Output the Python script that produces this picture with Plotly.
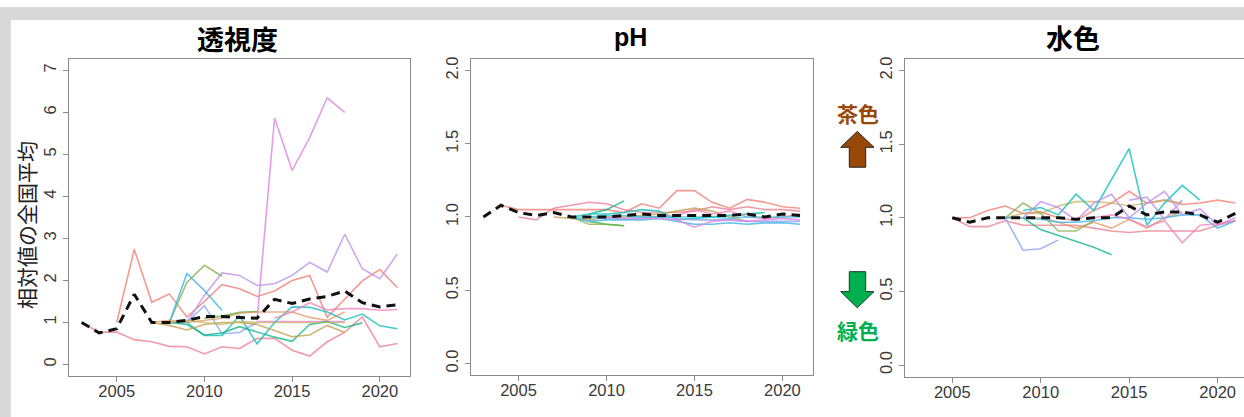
import plotly.graph_objects as go

W, H = 1244, 417
N = None
YEARS = list(range(2003, 2022))

# ---------------- 透視度 (transparency) ----------------
t_mean = [1.0, 0.75, 0.85, 1.67, 1.0, 1.0, 1.05, 1.14, 1.14, 1.12, 1.1, 1.55, 1.45, 1.56, 1.62, 1.75, 1.47, 1.37, 1.42]
t_red = [N, N, 1.0, 2.74, 1.48, 1.68, 1.13, 1.5, 1.9, 1.8, 1.62, 1.75, 2.0, 2.12, 1.12, 1.56, 1.99, 2.26, 1.83]
t_pinkred = [1.0, 0.77, 0.77, 0.59, 0.54, 0.43, 0.42, 0.25, 0.42, 0.38, 0.62, 0.62, 0.34, 0.2, 0.54, 0.77, 1.13, 0.42, 0.5]
t_orchid = [N, N, N, N, N, N, N, N, N, N, 1.05, 5.87, 4.62, 5.4, 6.35, 6.0, N, N, N]
t_pinkflat = [N, N, N, N, N, N, N, N, N, N, 1.02, 1.02, 1.02, 1.02, 1.02, 1.02, N, N, N]
t_lavender = [N, N, N, N, N, N, 1.0, 1.65, 2.18, 2.12, 1.88, 1.92, 2.12, 2.43, 2.2, 3.1, 2.28, 2.04, 2.63]
t_green = [N, N, N, N, N, 1.0, 1.95, 2.36, 2.1, N, N, N, N, N, N, N, N, N, N]
t_green2 = [N, N, N, N, N, N, N, 1.1, 1.15, 1.24, 1.26, N, N, N, N, N, N, N, N]
t_sky = [N, N, N, N, N, 1.0, 2.16, 1.76, 1.29, N, N, N, N, N, N, N, N, N, N]
t_blue = [N, N, N, N, N, N, 1.0, 1.4, 0.73, 0.76, 1.0, N, N, N, N, N, N, N, N]
t_teal = [N, N, N, N, N, 1.0, 1.0, 0.69, 0.69, 1.16, 0.49, 1.0, 1.37, 1.36, 1.25, 1.06, 1.2, 0.92, 0.85]
t_sea = [N, N, N, N, N, 1.0, 0.95, 0.7, 0.75, 0.9, 0.78, 0.65, 0.55, 0.95, 1.02, 0.88, 0.99, N, N]
t_gold = [N, N, N, N, 1.0, 0.93, 0.82, 0.95, 1.0, 1.0, 0.95, 0.8, 0.66, 0.7, 0.93, 0.76, N, N, N]
t_tan = [N, N, N, N, 1.0, 1.05, 1.0, 1.05, 1.1, 1.22, 1.25, 1.25, 1.25, 1.12, 1.05, 1.25, N, N, N]
t_olive = [N, N, N, N, N, 1.0, 1.05, 1.0, 0.95, 1.02, 1.0, 1.0, 1.0, 1.0, 1.0, 1.0, N, N, N]
t_pink = [N, N, N, N, N, N, N, N, N, N, N, 1.1, 1.25, 1.47, 1.3, 1.33, 1.33, 1.29, 1.31]

# ---------------- pH ----------------
p_mean = [1.0, 1.08, 1.03, 1.01, 1.03, 1.0, 1.0, 1.0, 1.01, 1.02, 1.01, 1.01, 1.01, 1.01, 1.01, 1.02, 1.0, 1.02, 1.01]
p_red = [N, 1.08, 1.05, 1.05, 1.05, 1.05, 1.05, 1.05, 1.03, 1.09, 1.06, 1.18, 1.18, 1.1, 1.06, 1.12, 1.1, 1.07, 1.06]
p_red2 = [N, N, 1.0, 0.98, 1.06, 1.08, 1.1, 1.09, 1.05, 1.03, 1.03, 1.03, 1.04, 1.07, 1.05, 1.07, 1.05, 1.05, 1.04]
p_gold = [N, N, N, N, 1.0, 0.99, 0.98, 1.0, 1.0, 1.01, 1.02, 1.04, 1.06, 1.04, 1.0, 0.97, N, N, N]
p_green = [N, N, N, N, N, 1.0, 0.95, 0.95, 0.94, N, N, N, N, N, N, N, N, N, N]
p_green2 = [N, N, N, N, N, N, 0.97, 0.95, 0.94, N, N, N, N, N, N, N, N, N, N]
p_teal = [N, N, N, N, N, N, 1.02, 1.05, 1.11, N, N, N, N, N, N, N, N, N, N]
p_sea = [N, N, N, N, N, 1.0, 1.02, 1.02, 1.03, 1.05, 1.04, 0.98, 0.99, 1.0, 1.01, 1.02, 1.03, N, N]
p_blue = [N, N, N, N, N, 1.0, 0.97, 0.98, 0.98, 0.98, 0.99, 0.97, 0.95, 0.95, 0.96, 0.95, 0.96, 0.96, 0.95]
p_sky = [N, N, N, N, N, N, 1.0, 0.99, 0.99, 1.0, 1.0, 0.99, 0.98, 0.98, 0.98, 0.97, 0.97, 0.97, 0.97]
p_violet = [N, N, N, N, N, N, N, 1.0, 0.99, 0.99, 0.99, 0.98, 0.93, 0.97, 0.98, 0.97, 0.98, 0.99, 0.98]
p_pink = [N, N, N, N, N, N, N, N, N, 1.0, 1.0, 1.01, 1.05, 1.02, 1.04, 1.0, 0.99, 1.0, 1.02]
p_cyan = [N, N, N, N, N, 1.0, 1.0, 1.01, 1.01, 1.0, 1.0, 1.0, 1.0, 1.0, 0.99, 1.0, 1.0, 1.0, 1.0]

# ---------------- 水色 (water colour) ----------------
s_mean = [N, N, 1.0, 0.97, 1.0, 1.0, 1.0, 1.0, 1.0, 0.99, 1.0, 1.0, 1.08, 1.02, 1.04, 1.04, 1.02, 0.97, 1.03]
s_red = [N, N, 1.0, 1.0, 1.05, 1.08, 1.03, 1.04, 1.0, 0.98, 1.05, 1.1, 1.18, 1.1, 1.12, 1.09, 1.1, 1.12, 1.1]
s_red2 = [N, N, 1.0, 0.94, 0.94, 0.98, 0.95, 0.95, 0.95, 0.95, 0.93, 0.91, 0.9, 0.91, 0.91, 0.91, 0.91, 0.95, 0.98]
s_orange = [N, N, N, N, N, 1.0, 1.0, 1.0, 0.97, 0.93, 0.97, 0.93, 0.99, 0.93, 1.0, 1.04, N, N, N]
s_olive = [N, N, N, N, N, 1.0, 1.03, 1.03, 1.08, 1.11, 1.11, 1.1, 1.08, 1.1, 1.12, 1.1, N, N, N]
s_green = [N, N, N, N, N, N, 1.0, 0.92, 0.88, 0.84, 0.8, 0.75, N, N, N, N, N, N, N]
s_green2 = [N, N, N, N, N, 1.0, 1.1, 1.03, 0.91, 0.91, 0.98, N, N, N, N, N, N, N, N]
s_cyan = [N, N, N, N, N, N, 1.05, 1.07, 1.02, 1.16, 1.05, 1.26, 1.47, 0.95, 1.1, 1.22, 1.12, N, N]
s_blue = [N, N, N, N, N, 1.0, 0.78, 0.79, 0.85, N, N, N, N, N, N, N, N, N, N]
s_sky = [N, N, N, N, N, 1.0, 1.0, 0.99, 0.97, 0.97, 0.98, 1.0, 1.0, 0.99, 1.0, 1.02, 1.02, 0.93, 0.98]
s_violet = [N, N, N, N, N, N, 1.0, 1.11, 1.07, 0.98, 1.1, 1.16, 1.0, 1.1, 1.18, 1.02, 1.06, 0.95, 1.0]
s_lavender = [N, N, N, N, N, N, N, N, N, N, N, N, 1.12, 1.14, 0.99, 1.12, N, N, N]
s_pink = [N, N, N, N, N, N, N, N, N, N, 1.0, 1.02, 0.99, 0.94, 0.98, 0.83, 0.95, 0.96, 0.98]

C = {
    "red": "rgba(240,120,110,0.75)", "pinkred": "rgba(236,120,140,0.75)",
    "orchid": "rgba(222,140,228,0.85)", "pinkflat": "rgba(240,130,215,0.75)",
    "lavender": "rgba(195,150,235,0.85)", "green": "rgba(135,180,80,0.8)",
    "green2": "rgba(70,180,60,0.75)", "sky": "rgba(60,180,230,0.8)",
    "blue": "rgba(140,165,240,0.8)", "teal": "rgba(30,195,190,0.85)",
    "sea": "rgba(25,180,140,0.8)", "gold": "rgba(195,160,80,0.8)",
    "tan": "rgba(225,150,100,0.75)", "olive": "rgba(200,175,90,0.7)",
    "pink": "rgba(240,125,185,0.75)", "orange": "rgba(230,150,90,0.75)",
    "cyan": "rgba(40,200,210,0.75)", "violet": "rgba(190,140,240,0.8)",
}

panel1 = [(t_red, "red"), (t_pinkred, "pinkred"), (t_orchid, "orchid"), (t_pinkflat, "pinkflat"),
          (t_lavender, "lavender"), (t_green, "green"), (t_green2, "green2"), (t_sky, "sky"),
          (t_blue, "blue"), (t_teal, "teal"), (t_sea, "sea"), (t_gold, "gold"), (t_tan, "tan"),
          (t_olive, "olive"), (t_pink, "pink")]
panel2 = [(p_red, "red"), (p_red2, "pinkred"), (p_gold, "gold"), (p_green, "green"),
          (p_green2, "green2"), (p_teal, "sea"), (p_sea, "teal"), (p_blue, "sky"),
          (p_sky, "blue"), (p_violet, "orchid"), (p_pink, "pink"), (p_cyan, "cyan")]
panel3 = [(s_red, "red"), (s_red2, "pinkred"), (s_orange, "orange"), (s_olive, "olive"),
          (s_green, "sea"), (s_green2, "green"), (s_cyan, "teal"), (s_blue, "blue"),
          (s_sky, "sky"), (s_violet, "violet"), (s_lavender, "lavender"), (s_pink, "pink")]

fig = go.Figure()


def px(x):
    return x / W


def py(y):
    return 1 - y / H


for k, (series, mean) in enumerate([(panel1, t_mean), (panel2, p_mean), (panel3, s_mean)]):
    ax = "" if k == 0 else str(k + 1)
    for vals, col in series:
        fig.add_trace(go.Scatter(x=YEARS, y=vals, mode="lines", xaxis="x" + ax, yaxis="y" + ax,
                                 line=dict(color=C[col], width=1.6), showlegend=False,
                                 hoverinfo="skip"))
    fig.add_trace(go.Scatter(x=YEARS, y=mean, mode="lines", xaxis="x" + ax, yaxis="y" + ax,
                             line=dict(color="#111111", width=3, dash="9px,6px"),
                             showlegend=False, hoverinfo="skip"))

tickfont = dict(family="Liberation Sans, Arial, sans-serif", size=16.5, color="#3a3a3a")
axis_common = dict(showgrid=False, zeroline=False, showline=True, linecolor="#8a8a8a",
                   linewidth=1.3, ticks="outside", ticklen=5, tickcolor="#8a8a8a",
                   tickfont=tickfont)

# panel geometry in pixels: (left, right, top, bottom)
geo = [(69, 410, 57, 376), (470.7, 812.7, 57, 375), (905, 1244, 57, 376.7)]
xr = [[2002.28, 2021.72], [2002.28, 2021.72], [2002.33, 2021.49]]
yr = [[-0.28, 7.28], [-0.08, 2.08], [-0.08, 2.08]]
ytick = [[0, 1, 2, 3, 4, 5, 6, 7], [0, 0.5, 1.0, 1.5, 2.0], [0, 0.5, 1.0, 1.5, 2.0]]
ytext = [[str(v) for v in ytick[0]], ["0.0", "0.5", "1.0", "1.5", "2.0"], ["0.0", "0.5", "1.0", "1.5", "2.0"]]

layout = {}
for k in range(3):
    l, r, t, b = geo[k]
    name = "" if k == 0 else str(k + 1)
    layout["xaxis" + name] = dict(axis_common, domain=[px(l), px(r)], range=xr[k],
                                  tickvals=[2005, 2010, 2015, 2020], mirror=True,
                                  anchor="y" + name, ticklabelstandoff=-5)
    layout["yaxis" + name] = dict(axis_common, domain=[py(b), py(t)], range=yr[k],
                                  tickvals=ytick[k], ticktext=ytext[k], tickangle=-90,
                                  mirror=(k < 2), anchor="x" + name)

fig.update_layout(**layout)
fig.update_layout(width=W, height=H, margin=dict(l=0, r=0, t=0, b=0),
                  paper_bgcolor="white", plot_bgcolor="white")

shapes = [
    dict(type="rect", xref="paper", yref="paper", x0=0, x1=1, y0=py(18), y1=py(5),
         fillcolor="#d9d9d9", line=dict(width=0), layer="below"),
    dict(type="rect", xref="paper", yref="paper", x0=0, x1=px(11), y0=0, y1=py(5),
         fillcolor="#d9d9d9", line=dict(width=0), layer="below"),
]


def poly(points):
    return "M " + " L ".join(f"{px(x)},{py(y)}" for x, y in points) + " Z"


# brown up arrow / green down arrow
up = [(857.3, 130), (874, 146), (865.7, 146), (865.7, 166), (849.3, 166), (849.3, 146), (840.7, 146)]
down = [(857.3, 307.3), (874, 291), (865.7, 291), (865.7, 271), (849.3, 271), (849.3, 291), (840.7, 291)]
shapes.append(dict(type="path", xref="paper", yref="paper", path=poly(up),
                   fillcolor="#974806", line=dict(color="#222222", width=1)))
shapes.append(dict(type="path", xref="paper", yref="paper", path=poly(down),
                   fillcolor="#00B050", line=dict(color="#1a3a1a", width=1)))
fig.update_layout(shapes=shapes)

jp = "Noto Sans CJK JP, sans-serif"
ann = [
    dict(text="<b>透視度</b>", x=px(237), y=py(37), font=dict(family=jp, size=27, color="#000")),
    dict(text="<b>pH</b>", x=px(630), y=py(35),
         font=dict(family="Liberation Sans Narrow, Arial Narrow, Liberation Sans, sans-serif", size=25, color="#000")),
    dict(text="<b>水色</b>", x=px(1073), y=py(36), font=dict(family=jp, size=27, color="#000")),
    dict(text="相対値の全国平均", x=px(26), y=py(224), textangle=-90,
         font=dict(family=jp, size=21, color="#222")),
    dict(text="<b>茶色</b>", x=px(858), y=py(112), font=dict(family=jp, size=21, color="#984807")),
    dict(text="<b>緑色</b>", x=px(858), y=py(330), font=dict(family=jp, size=21, color="#00B050")),
]
for a in ann:
    a.update(xref="paper", yref="paper", showarrow=False, xanchor="center", yanchor="middle")
fig.update_layout(annotations=ann)

fig.write_html("out.html", config={"displayModeBar": False},
               post_script="document.body.style.margin='0';document.body.style.overflow='hidden';")
